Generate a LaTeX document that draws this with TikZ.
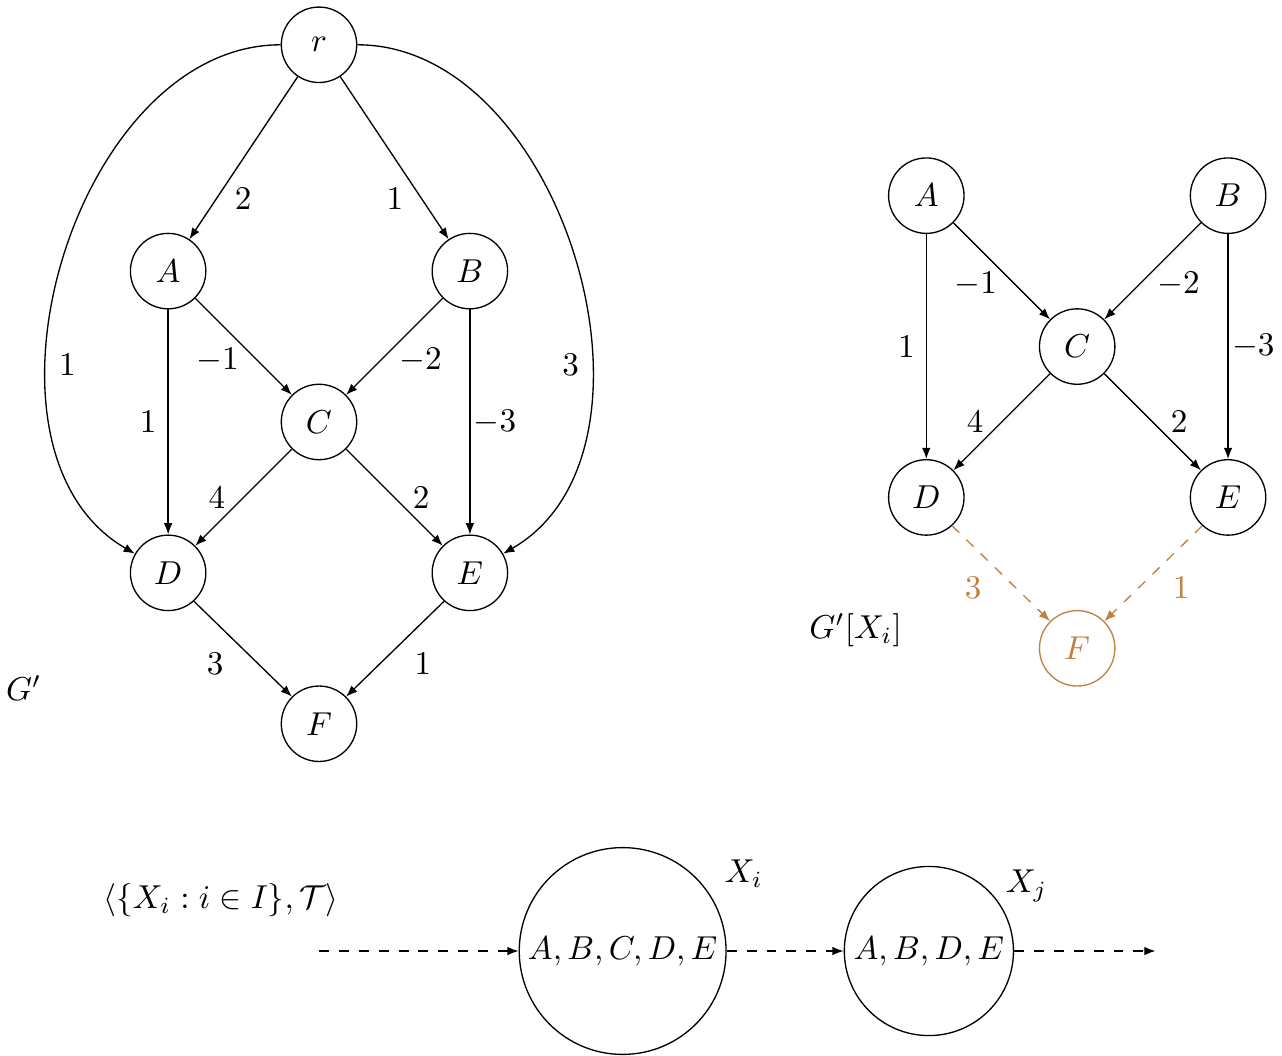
\documentclass[tikz,border=0pt]{standalone}
\usetikzlibrary{arrows.meta,positioning,calc}

\begin{document}
\begin{tikzpicture}[
    vertex/.style={circle, draw, minimum size=0.8cm, inner sep=0pt},
    bag/.style={circle, draw, inner sep=2pt},
    edge/.style={-{Latex[length=3.4pt,width=2.6pt]}},
    faded/.style={brown, dashed},
  ]
  \useasboundingbox (-3.383,-6.713) rectangle (10.212,4.475);

  % Graph G' (left)
  \node[vertex] (r) at (0,4) {$r$};
  \node[vertex] (a) at (-1.6,1.6) {$A$};
  \node[vertex] (b) at (1.6,1.6) {$B$};
  \node[vertex] (c) at (0,0) {$C$};
  \node[vertex] (d) at (-1.6,-1.6) {$D$};
  \node[vertex] (e) at (1.6,-1.6) {$E$};
  \node[vertex] (f) at (0,-3.2) {$F$};
  \node (gname) at (-3.13,-2.82) {$G'$};

  \draw[edge] (r) -- (a) node[near end, right=2pt] {$2$};
  \draw[edge] (r) -- (b) node[near end, left=2pt] {$1$};
  \draw[edge] (r) to[out=180, in=150] node[pos=0.65, right] {$1$} (d);
  \draw[edge] (r) to[out=0, in=30] node[pos=0.65, left] {$3$} (e);
  \draw[edge] (a) -- (d) node[midway, left] {$1$};
  \draw[edge] (a) -- (c) node[pos=0.64, left=2pt] {$-1$};
  \draw[edge] (b) -- (c) node[pos=0.64, right=2pt] {$-2$};
  \draw[edge] (b) -- (e) node[midway, right, inner sep=1pt] {$-3$};
  \draw[edge] (c) -- (d) node[midway, left=2pt] {$4$};
  \draw[edge] (c) -- (e) node[midway, right=2pt] {$2$};
  \draw[edge] (d) -- (f) node[pos=0.42, below left] {$3$};
  \draw[edge] (e) -- (f) node[pos=0.42, below right] {$1$};

  % Induced subgraph G'[X_i] (right)
  \begin{scope}[shift={(8.04,0.8)}]
    \node[vertex] (sa) at (-1.6,1.6) {$A$};
    \node[vertex] (sb) at (1.6,1.6) {$B$};
    \node[vertex] (sc) at (0,0) {$C$};
    \node[vertex] (sd) at (-1.6,-1.6) {$D$};
    \node[vertex] (se) at (1.6,-1.6) {$E$};
    \node[vertex, brown] (sf) at (0,-3.2) {$F$};
  \end{scope}
  \node (subname) at (5.69,-2.21) {$G'[X_i]$};

  \draw[edge] (sa) -- (sd) node[midway, left] {$1$};
  \draw[edge] (sa) -- (sc) node[pos=0.64, left=2pt] {$-1$};
  \draw[edge] (sb) -- (sc) node[pos=0.64, right=2pt] {$-2$};
  \draw[edge] (sb) -- (se) node[midway, right, inner sep=1pt] {$-3$};
  \draw[edge] (sc) -- (sd) node[midway, left=2pt] {$4$};
  \draw[edge] (sc) -- (se) node[midway, right=2pt] {$2$};
  \draw[edge, faded] (sd) -- (sf) node[pos=0.42, below left] {$3$};
  \draw[edge, faded] (se) -- (sf) node[pos=0.42, below right] {$1$};

  % Tree decomposition
  \node (tuple) at (-1.04,-5.07) {$\langle\{X_i : i\in I\},\mathcal{T}\rangle$};
  \node[bag, label=30:$X_i$] (xi) at (3.22,-5.61) {$A,B,C,D,E$};
  \node[bag, label={[label distance=-3pt]30:$X_j$}, right=1.24cm of xi] (xj) {$A,B,D,E$};
  \coordinate (start) at (0,-5.61);
  \coordinate[right=1.5cm of xj] (stop);
  \draw[edge, dashed] (start) -- (xi);
  \draw[edge, dashed] (xi) -- (xj);
  \draw[edge, dashed] (xj) -- (stop);
\end{tikzpicture}
\end{document}
